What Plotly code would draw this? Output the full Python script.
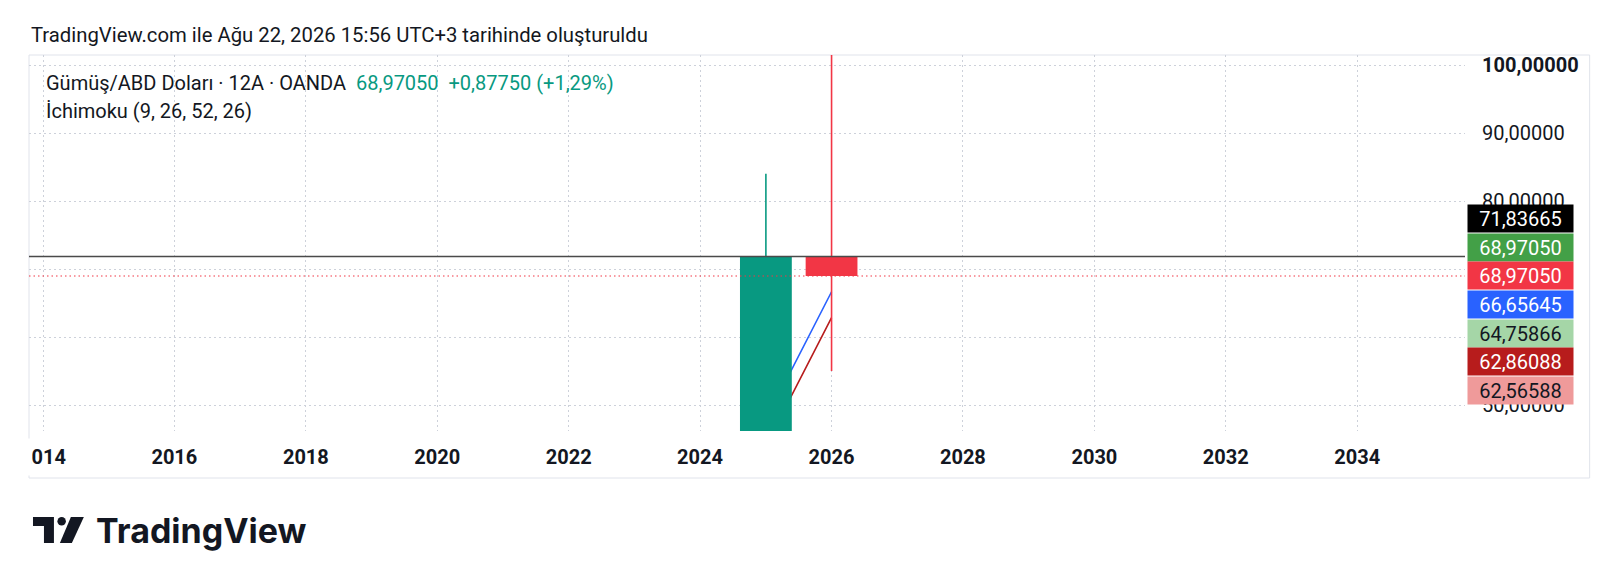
import pandas as pd
import plotly.graph_objects as go

# yearly candles (12A) - silver / usd, OANDA
candle_x = ["2025-01-01", "2026-01-01"]
open_ = [28.90, 71.83665]
high = [84.00, 121.67]
low = [28.30, 55.00]
close = [71.83665, 68.97050]

# ichimoku (9, 26, 52, 26) lines that show up in the window
ichi_x = ["2024-01-01", "2025-01-01", "2026-01-01"]
conversion = [23.26, 47.82, 66.65645]
base_line = [26.90, 44.03, 62.86088]

prev_close = 71.83665
last_price = 68.97050
change = 0.87750
change_pct = 1.29

# price scale labels (stacked on the right)
label_values = [71.83665, 68.97050, 68.97050, 66.65645, 64.75866, 62.86088, 62.56588]
label_bg = ["#000000", "#43A047", "#F23645", "#2962FF", "#A5D6A7", "#B71C1C", "#EF9A9A"]
label_fg = ["#ffffff", "#ffffff", "#ffffff", "#ffffff", "#131722", "#ffffff", "#131722"]

y_ticks = [50, 60, 70, 80, 90, 100]
hidden_ticks = [60, 70]  # sit fully under the stacked labels

UP = "#089981"
DOWN = "#F23645"
FONT = "Roboto"
GRID = "#cdd1da"

W, H = 1600, 573
L, R, T, B = 17, 143, 47, 150
PW, PH = W - L - R, H - T - B


def px(x):
    return (x - L) / PW


def py(y):
    return (H - B - y) / PH


def fmt(v):
    return f"{v:.5f}".replace(".", ",")


fig = go.Figure()

# ichimoku lines (drawn under the candles)
fig.add_trace(go.Scatter(x=ichi_x, y=conversion, mode="lines",
                         line=dict(color="#2962FF", width=1.6)))
fig.add_trace(go.Scatter(x=ichi_x, y=base_line, mode="lines",
                         line=dict(color="#B71C1C", width=1.6)))

# candles: wick + body
half = pd.Timedelta(days=144)
for i in range(len(candle_x)):
    col = UP if close[i] >= open_[i] else DOWN
    t = pd.Timestamp(candle_x[i])
    fig.add_trace(go.Scatter(x=[t, t], y=[low[i], high[i]],
                             mode="lines", line=dict(color=col, width=1.6)))
    fig.add_trace(go.Scatter(
        x=[t - half, t + half, t + half, t - half, t - half],
        y=[open_[i], open_[i], close[i], close[i], open_[i]],
        mode="lines", fill="toself", fillcolor=col, line=dict(width=0, color=col),
    ))

# previous close line and last price line
fig.add_shape(type="line", xref="paper", x0=0, x1=1, yref="y", y0=prev_close, y1=prev_close,
              line=dict(color="#4a4a4a", width=1.3))
fig.add_shape(type="line", xref="paper", x0=0, x1=1, yref="y", y0=last_price, y1=last_price,
              line=dict(color=DOWN, width=1.2, dash="1.5px,3px"))

# outer frame
fig.add_shape(type="rect", xref="paper", yref="paper", x0=0, x1=px(1582), y0=py(470), y1=1,
              line=dict(color="#e0e3eb", width=1), layer="below")
# clip the first year label at the frame
fig.add_annotation(xref="paper", yref="paper", x=px(0), y=py(449), xanchor="left", yanchor="middle",
                   text=" ", showarrow=False, width=18, height=36, bgcolor="white", borderpad=0)

# stacked price labels
top = 196
h = 28.7
for i, v in enumerate(label_values):
    fig.add_annotation(xref="paper", yref="paper", x=px(1459), y=py(top + h * i + h / 2),
                       xanchor="left", yanchor="middle", text=fmt(v), showarrow=False,
                       width=105, height=27, align="center", bgcolor=label_bg[i],
                       borderpad=0, font=dict(family=FONT, size=20, color=label_fg[i]))

# header
fig.add_annotation(xref="paper", yref="paper", x=px(17), y=py(27), xanchor="left", yanchor="middle",
                   text="TradingView.com ile Ağu 22, 2026 15:56 UTC+3 tarihinde oluşturuldu",
                   showarrow=False, font=dict(family=FONT, size=20.3, color="#131722"))
sp = "\u00a0\u00a0"
pct = f"{change_pct:.2f}".replace(".", ",")
fig.add_annotation(xref="paper", yref="paper", x=px(32), y=py(75), xanchor="left", yanchor="middle",
                   text="Gümüş/ABD Doları · 12A · OANDA" + sp
                        + f"<span style='color:{UP}'>{fmt(last_price)}{sp}+{fmt(change)} (+{pct}%)</span>",
                   showarrow=False, font=dict(family=FONT, size=20, color="#131722"))
fig.add_annotation(xref="paper", yref="paper", x=px(32), y=py(103), xanchor="left", yanchor="middle",
                   text="İchimoku (9, 26, 52, 26)",
                   showarrow=False, font=dict(family=FONT, size=20, color="#131722"))

# TradingView logo
fig.add_shape(type="path", xref="paper", yref="paper",
              path=f"M {px(21)},{py(509)} L {px(42)},{py(509)} L {px(42)},{py(535)} L {px(32)},{py(535)} "
                   f"L {px(32)},{py(518)} L {px(21)},{py(518)} Z",
              fillcolor="#131722", line=dict(width=0))
fig.add_shape(type="circle", xref="paper", yref="paper", x0=px(45.5), x1=px(54), y0=py(517.5), y1=py(509),
              fillcolor="#131722", line=dict(width=0))
fig.add_shape(type="path", xref="paper", yref="paper",
              path=f"M {px(59)},{py(509)} L {px(72)},{py(509)} L {px(60)},{py(535)} L {px(48)},{py(535)} Z",
              fillcolor="#131722", line=dict(width=0))
fig.add_annotation(xref="paper", yref="paper", x=px(82), y=py(522), xanchor="left", yanchor="middle",
                   text="<b>TradingView</b>", showarrow=False,
                   font=dict(family="Inter", size=34, color="#131722"))

fig.update_layout(
    width=W, height=H,
    margin=dict(l=L, r=R, t=T, b=B),
    paper_bgcolor="white", plot_bgcolor="white",
    showlegend=False, separators=",.",
    xaxis=dict(type="date", range=["2013-10-15", "2035-08-23"], tick0="2014-01-01", dtick="M24",
               tickformat="%Y", showgrid=True, gridcolor=GRID, griddash="1.5px,3.5px", gridwidth=1,
               zeroline=False, showline=False, ticks="outside", ticklen=8, tickcolor="rgba(0,0,0,0)",
               tickfont=dict(family=FONT, size=20, color="#131722", weight="bold")),
    yaxis=dict(side="right", range=[46.18, 101.47], tickvals=y_ticks,
               ticktext=["" if v in hidden_ticks else (f"<b>{fmt(v)}</b>" if v == 100 else fmt(v))
                         for v in y_ticks],
               showgrid=True, gridcolor=GRID, griddash="1.5px,3.5px", gridwidth=1,
               zeroline=False, showline=False, ticks="outside", ticklen=12, tickcolor="rgba(0,0,0,0)",
               tickfont=dict(family=FONT, size=20, color="#131722")),
)

fig.write_html("out.html")
